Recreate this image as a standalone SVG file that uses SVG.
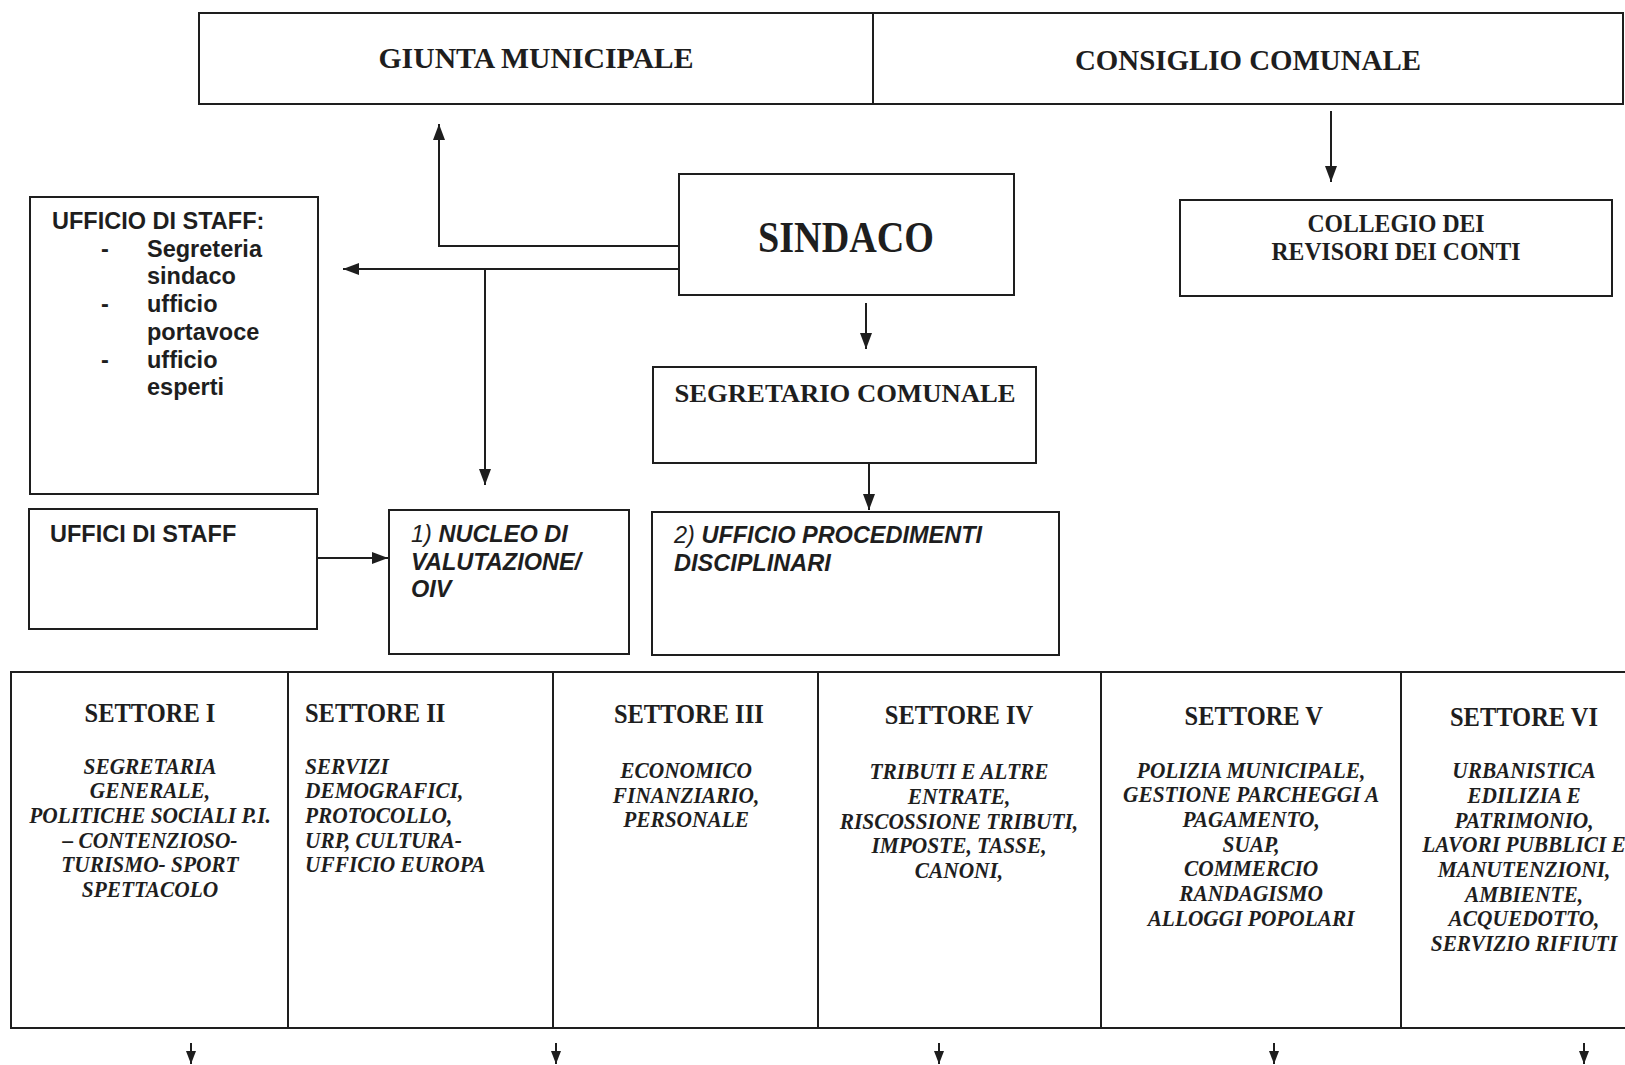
<svg xmlns="http://www.w3.org/2000/svg" width="1625" height="1065" viewBox="0 0 1625 1065">
<defs>
<marker id="ah" markerWidth="16" markerHeight="12" refX="16" refY="6" orient="auto" markerUnits="userSpaceOnUse"><path d="M0,0 L16,6 L0,12 z" fill="#1e1e1e"/></marker>
<marker id="ahs" markerWidth="13" markerHeight="10" refX="13" refY="5" orient="auto" markerUnits="userSpaceOnUse"><path d="M0,0 L13,5 L0,10 z" fill="#1e1e1e"/></marker>
</defs>
<style>
.box{fill:none;stroke:#1e1e1e;stroke-width:2}
.ln{fill:none;stroke:#1e1e1e;stroke-width:2}
.h{font-family:"Liberation Serif","Times New Roman",serif;font-weight:bold;fill:#1e1e1e;text-anchor:middle}
.sh{font-family:"Liberation Serif","Times New Roman",serif;font-weight:bold;font-size:27.5px;fill:#1e1e1e;text-anchor:middle}
.b{font-family:"Liberation Serif","Times New Roman",serif;font-weight:bold;font-style:italic;font-size:24px;fill:#1e1e1e;text-anchor:middle}
.l{text-anchor:start}
.s{font-family:"Liberation Sans",Arial,sans-serif;font-weight:bold;font-size:23.5px;fill:#1e1e1e}
.si{font-family:"Liberation Sans",Arial,sans-serif;font-weight:bold;font-style:italic;font-size:23.5px;fill:#1e1e1e}
.n{font-weight:normal}
</style>
<rect x="0" y="0" width="1625" height="1065" fill="#ffffff"/>

<g id="top">
<rect class="box" x="199" y="13" width="1424" height="91"/>
<line class="ln" x1="873" y1="13" x2="873" y2="104"/>
</g>
<g id="giunta"><text class="h" x="536" y="68" font-size="30" textLength="315" lengthAdjust="spacingAndGlyphs">GIUNTA MUNICIPALE</text></g>
<g id="consiglio"><text class="h" x="1248" y="70" font-size="30" textLength="346" lengthAdjust="spacingAndGlyphs">CONSIGLIO COMUNALE</text></g>

<g id="sindaco">
<rect class="box" x="679" y="174" width="335" height="121"/>
<text class="h" x="846" y="252" font-size="44" textLength="176" lengthAdjust="spacingAndGlyphs">SINDACO</text>
</g>

<g id="collegio">
<rect class="box" x="1180" y="200" width="432" height="96"/>
<text class="h" x="1396" y="232" font-size="24.5" textLength="177" lengthAdjust="spacingAndGlyphs">COLLEGIO DEI</text>
<text class="h" x="1396" y="260" font-size="24.5" textLength="249" lengthAdjust="spacingAndGlyphs">REVISORI DEI CONTI</text>
</g>

<g id="segretario">
<rect class="box" x="653" y="367" width="383" height="96"/>
<text class="h" x="845" y="402" font-size="26" textLength="341" lengthAdjust="spacingAndGlyphs">SEGRETARIO COMUNALE</text>
</g>

<g id="ufficio-staff">
<rect class="box" x="30" y="197" width="288" height="297"/>
<text class="s" x="52" y="229">UFFICIO DI STAFF:</text>
<text class="s" x="101" y="257">-</text><text class="s" x="147" y="257">Segreteria</text>
<text class="s" x="147" y="284">sindaco</text>
<text class="s" x="101" y="312">-</text><text class="s" x="147" y="312">ufficio</text>
<text class="s" x="147" y="340">portavoce</text>
<text class="s" x="101" y="368">-</text><text class="s" x="147" y="368">ufficio</text>
<text class="s" x="147" y="395">esperti</text>
</g>

<g id="uffici-staff">
<rect class="box" x="29" y="509" width="288" height="120"/>
<text class="s" x="50" y="542">UFFICI DI STAFF</text>
</g>

<g id="nucleo">
<rect class="box" x="389" y="510" width="240" height="144"/>
<text class="si" x="411" y="542"><tspan class="n">1)</tspan> NUCLEO DI</text>
<text class="si" x="411" y="570">VALUTAZIONE/</text>
<text class="si" x="411" y="597">OIV</text>
</g>

<g id="procedimenti">
<rect class="box" x="652" y="512" width="407" height="143"/>
<text class="si" x="674" y="543"><tspan class="n">2)</tspan> UFFICIO PROCEDIMENTI</text>
<text class="si" x="674" y="571">DISCIPLINARI</text>
</g>

<g id="settori">
<rect class="box" x="11" y="672" width="1620" height="356"/>
<line class="ln" x1="288" y1="672" x2="288" y2="1028"/>
<line class="ln" x1="553" y1="672" x2="553" y2="1028"/>
<line class="ln" x1="818" y1="672" x2="818" y2="1028"/>
<line class="ln" x1="1101" y1="672" x2="1101" y2="1028"/>
<line class="ln" x1="1401" y1="672" x2="1401" y2="1028"/>
</g>

<g id="settore-1" transform="translate(150 0) scale(0.89 1) translate(-150 0)">
<text class="sh" x="150" y="722">SETTORE I</text>
<text class="b" x="150" y="774">SEGRETARIA</text>
<text class="b" x="150" y="798">GENERALE,</text>
<text class="b" x="150" y="823">POLITICHE SOCIALI P.I.</text>
<text class="b" x="150" y="848">– CONTENZIOSO-</text>
<text class="b" x="150" y="872">TURISMO- SPORT</text>
<text class="b" x="150" y="897">SPETTACOLO</text>
</g>

<g id="settore-2" transform="translate(305 0) scale(0.89 1) translate(-305 0)">
<text class="sh l" x="305" y="722">SETTORE II</text>
<text class="b l" x="305" y="774">SERVIZI</text>
<text class="b l" x="305" y="798">DEMOGRAFICI,</text>
<text class="b l" x="305" y="823">PROTOCOLLO,</text>
<text class="b l" x="305" y="848">URP, CULTURA-</text>
<text class="b l" x="305" y="872">UFFICIO EUROPA</text>
</g>

<g id="settore-3" transform="translate(687 0) scale(0.89 1) translate(-687 0)">
<text class="sh" x="689" y="723">SETTORE III</text>
<text class="b" x="686" y="778">ECONOMICO</text>
<text class="b" x="686" y="803">FINANZIARIO,</text>
<text class="b" x="686" y="827">PERSONALE</text>
</g>

<g id="settore-4" transform="translate(959 0) scale(0.89 1) translate(-959 0)">
<text class="sh" x="959" y="724">SETTORE IV</text>
<text class="b" x="959" y="779">TRIBUTI E ALTRE</text>
<text class="b" x="959" y="804">ENTRATE,</text>
<text class="b" x="959" y="829">RISCOSSIONE TRIBUTI,</text>
<text class="b" x="959" y="853">IMPOSTE, TASSE,</text>
<text class="b" x="959" y="878">CANONI,</text>
</g>

<g id="settore-5" transform="translate(1252 0) scale(0.89 1) translate(-1252 0)">
<text class="sh" x="1254" y="725">SETTORE V</text>
<text class="b" x="1251" y="778">POLIZIA MUNICIPALE,</text>
<text class="b" x="1251" y="802">GESTIONE PARCHEGGI A</text>
<text class="b" x="1251" y="827">PAGAMENTO,</text>
<text class="b" x="1251" y="852">SUAP,</text>
<text class="b" x="1251" y="876">COMMERCIO</text>
<text class="b" x="1251" y="901">RANDAGISMO</text>
<text class="b" x="1251" y="926">ALLOGGI POPOLARI</text>
</g>

<g id="settore-6" transform="translate(1524 0) scale(0.89 1) translate(-1524 0)">
<text class="sh" x="1524" y="726">SETTORE VI</text>
<text class="b" x="1524" y="778">URBANISTICA</text>
<text class="b" x="1524" y="803">EDILIZIA E</text>
<text class="b" x="1524" y="828">PATRIMONIO,</text>
<text class="b" x="1524" y="852">LAVORI PUBBLICI E</text>
<text class="b" x="1524" y="877">MANUTENZIONI,</text>
<text class="b" x="1524" y="902">AMBIENTE,</text>
<text class="b" x="1524" y="926">ACQUEDOTTO,</text>
<text class="b" x="1524" y="951">SERVIZIO RIFIUTI</text>
</g>

<g id="connectors">
<path class="ln" d="M679,246 H439 V124" marker-end="url(#ah)"/>
<path class="ln" d="M679,269 H343" marker-end="url(#ah)"/>
<path class="ln" d="M485,269 V485" marker-end="url(#ah)"/>
<path class="ln" d="M1331,111 V182" marker-end="url(#ah)"/>
<path class="ln" d="M866,303 V349" marker-end="url(#ah)"/>
<path class="ln" d="M869,463 V510" marker-end="url(#ah)"/>
<path class="ln" d="M317,558 H388" marker-end="url(#ah)"/>
<path class="ln" d="M191,1043 V1064" marker-end="url(#ahs)"/>
<path class="ln" d="M556,1043 V1064" marker-end="url(#ahs)"/>
<path class="ln" d="M939,1043 V1064" marker-end="url(#ahs)"/>
<path class="ln" d="M1274,1043 V1064" marker-end="url(#ahs)"/>
<path class="ln" d="M1584,1043 V1064" marker-end="url(#ahs)"/>
</g>
</svg>
